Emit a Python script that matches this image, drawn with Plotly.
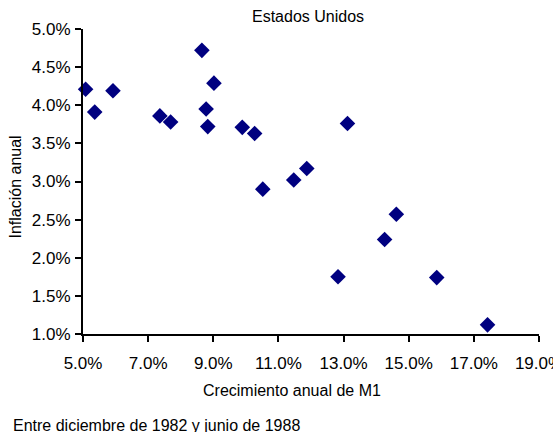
import plotly.graph_objects as go

# Annual M1 growth (x) and annual inflation (y), as fractions
m1_growth = [0.0508, 0.0536, 0.0592, 0.0865, 0.0902, 0.0736, 0.0769, 0.0878, 0.0883,
             0.0989, 0.1027, 0.1052, 0.1312, 0.1187, 0.1147, 0.1462, 0.1426, 0.1283,
             0.1586, 0.1742]
inflation = [0.0421, 0.0391, 0.0419, 0.0472, 0.0429, 0.0386, 0.0378, 0.0395, 0.0372,
             0.0371, 0.0363, 0.0290, 0.0376, 0.0317, 0.0302, 0.0257, 0.0224, 0.0175,
             0.0174, 0.0112]

title_text = "Estados Unidos"
x_title = "Crecimiento anual de M1"
y_title = "Inflación anual"
footnote = "Entre diciembre de 1982 y junio de 1988"

W, H = 553, 432
L, R, T, B = 83.3, 539.3, 29.3, 334.0
pw, ph = R - L, B - T

def px(x):
    return (x - L) / pw

def py(y):
    return (B - y) / ph

FONT = "Liberation Sans, Arial, sans-serif"

fig = go.Figure()
fig.add_trace(go.Scatter(
    x=m1_growth, y=inflation, mode="markers",
    marker=dict(symbol="diamond", size=12, color="#000080",
                line=dict(width=0)),
    cliponaxis=False, showlegend=False,
))

axis_common = dict(
    showgrid=False, zeroline=False, showline=True, linecolor="black",
    linewidth=2, ticks="outside", ticklen=6, tickwidth=2, tickcolor="black",
    tickfont=dict(family=FONT, size=17, color="black"), tickformat=".1%",
    automargin=False,
)
fig.update_xaxes(range=[0.05, 0.19], tick0=0.05, dtick=0.02, **axis_common,
                 ticklabelstandoff=7, ticklabeloverflow="allow")
fig.update_yaxes(range=[0.01, 0.05], tick0=0.01, dtick=0.005, **axis_common,
                 ticklabelstandoff=1)

ann_font = dict(family=FONT, size=16, color="black")
fig.update_layout(
    width=W, height=H,
    margin=dict(l=L, r=W - R, t=T, b=H - B, pad=0, autoexpand=False),
    paper_bgcolor="white", plot_bgcolor="white",
    font=dict(family=FONT, size=16, color="black"),
    annotations=[
        dict(text=title_text, x=px(308.5), y=py(16.5), xref="paper", yref="paper",
             showarrow=False, xanchor="center", yanchor="middle", font=ann_font),
        dict(text=x_title, x=px(292.5), y=py(390), xref="paper", yref="paper",
             showarrow=False, xanchor="center", yanchor="middle", font=ann_font),
        dict(text=y_title, x=px(16), y=py(187), xref="paper", yref="paper",
             showarrow=False, xanchor="center", yanchor="middle", textangle=-90,
             font=ann_font),
        dict(text=footnote, x=px(11.7), y=py(425), xref="paper", yref="paper",
             showarrow=False, xanchor="left", yanchor="middle", font=ann_font),
    ],
)

fig.write_html("out.html")
